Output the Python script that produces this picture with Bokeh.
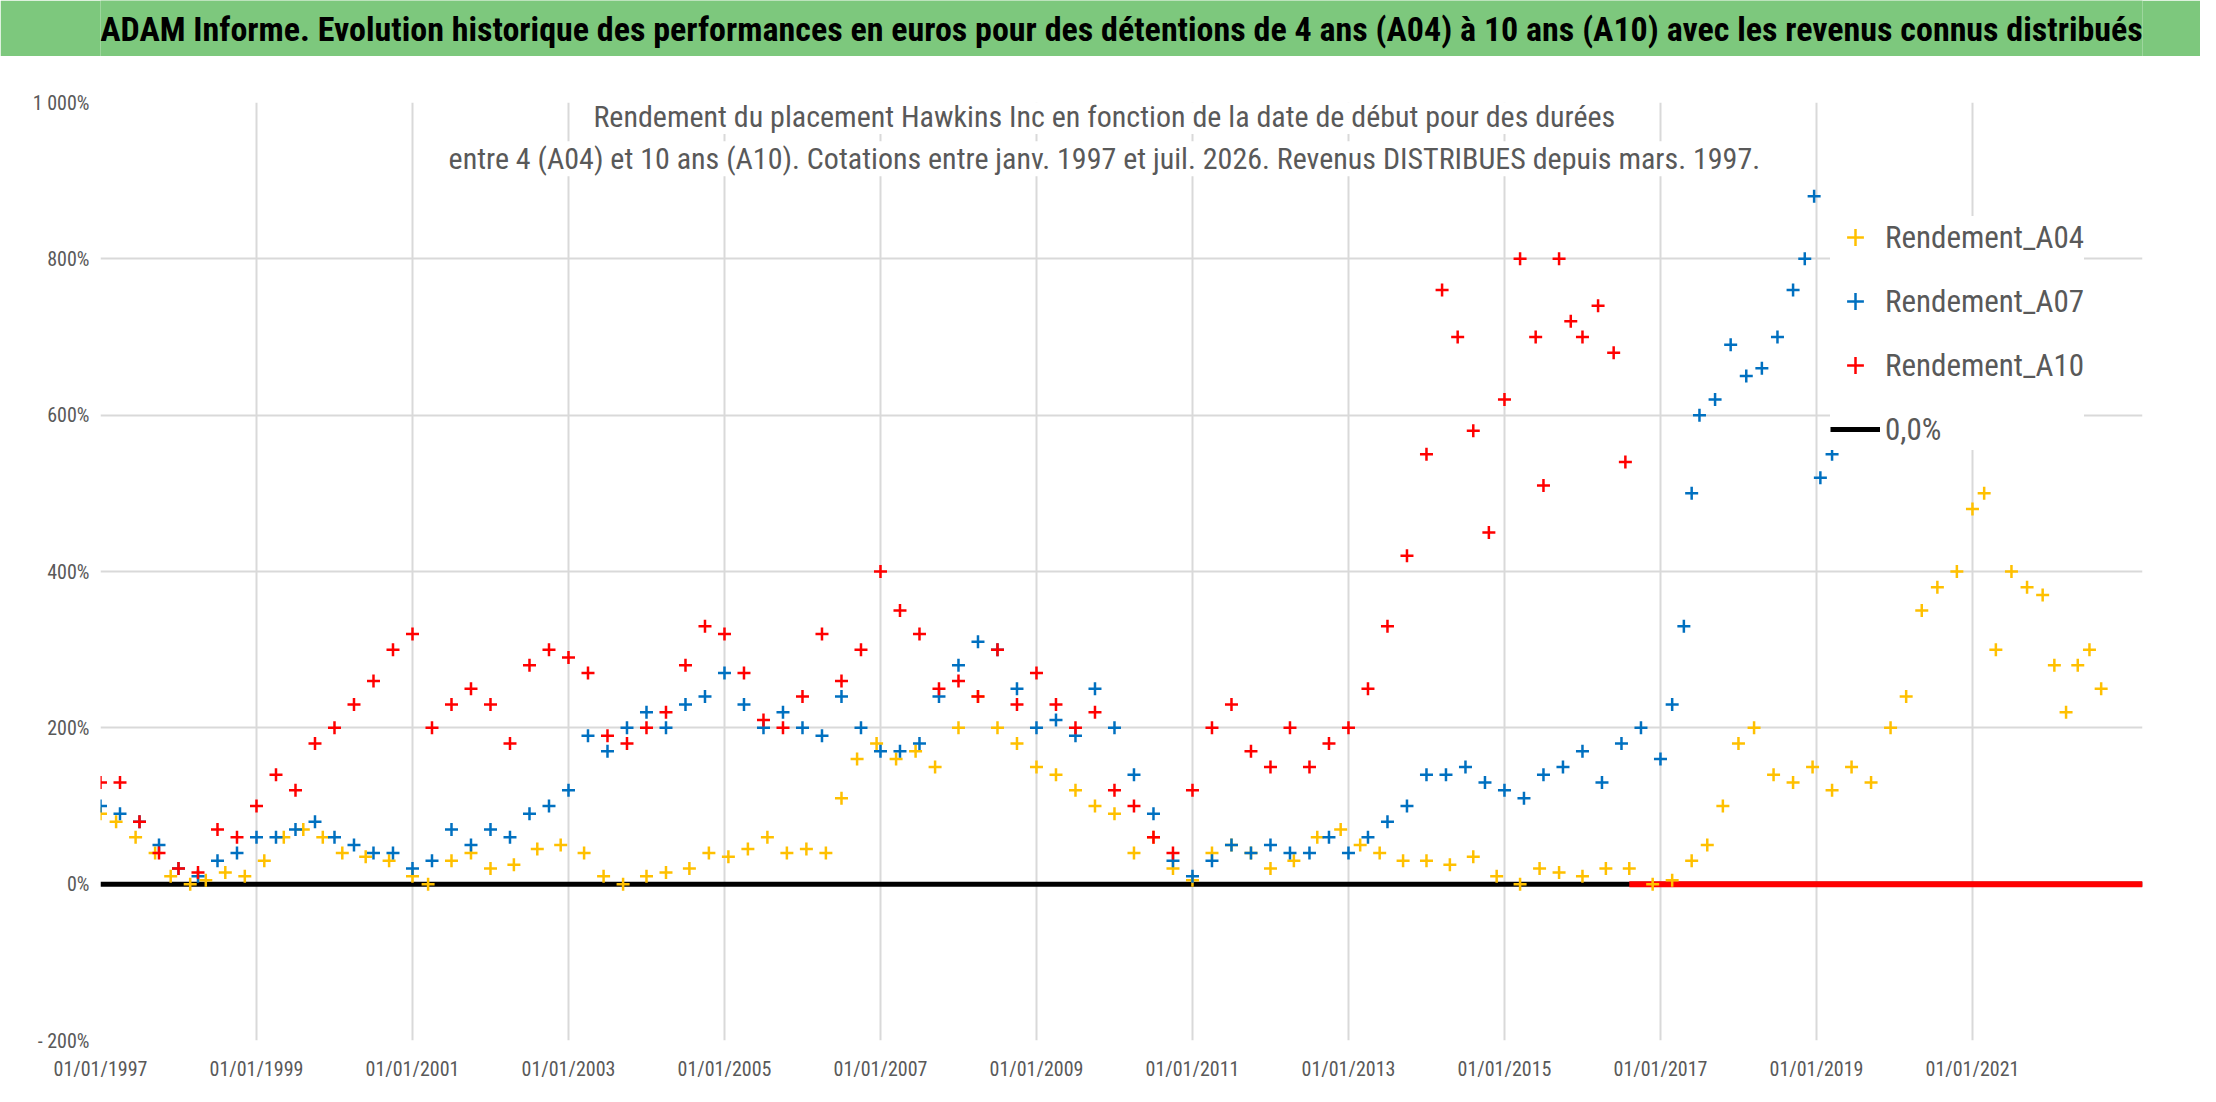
from bokeh.plotting import figure
from bokeh.models import FixedTicker, Legend, LegendItem, Label, Range1d
from bokeh.layouts import column
from bokeh.embed import file_html
from bokeh.resources import INLINE
from bokeh.core.properties import value

FONT = "'Liberation Sans Narrow', 'Roboto Condensed', 'Open Sans'"

# ---------------- data ----------------
a04_x = [1997.0, 1997.2, 1997.45, 1997.7, 1997.9, 1998.15, 1998.35, 1998.6, 1998.85, 1999.1, 1999.35, 1999.6, 1999.85,
         2000.1, 2000.4, 2000.7, 2001.0, 2001.2, 2001.5, 2001.75, 2002.0, 2002.3, 2002.6, 2002.9, 2003.2, 2003.45,
         2003.7, 2004.0, 2004.25, 2004.55, 2004.8, 2005.05, 2005.3, 2005.55, 2005.8, 2006.05, 2006.3, 2006.5, 2006.7,
         2006.95, 2007.2, 2007.45, 2007.7, 2008.0, 2008.25, 2008.5, 2008.75, 2009.0, 2009.25, 2009.5, 2009.75, 2010.0,
         2010.25, 2010.5, 2010.75, 2011.0, 2011.25, 2011.5, 2011.75, 2012.0, 2012.3, 2012.6, 2012.9, 2013.15, 2013.4,
         2013.7, 2014.0, 2014.3, 2014.6, 2014.9, 2015.2, 2015.45, 2015.7, 2016.0, 2016.3, 2016.6, 2016.9, 2017.15,
         2017.4, 2017.6, 2017.8, 2018.0, 2018.2, 2018.45, 2018.7, 2018.95, 2019.2, 2019.45, 2019.7, 2019.95, 2020.15,
         2020.35, 2020.55, 2020.8, 2021.0, 2021.15, 2021.3, 2021.5, 2021.7, 2021.9, 2022.05, 2022.2, 2022.35, 2022.5,
         2022.65]
a04_y = [90, 80, 60, 40, 10, 0, 5, 15, 10, 30, 60, 70, 60,
         40, 35, 30, 10, 0, 30, 40, 20, 25, 45, 50, 40, 10,
         0, 10, 15, 20, 40, 35, 45, 60, 40, 45, 40, 110, 160,
         180, 160, 170, 150, 200, 240, 200, 180, 150, 140, 120, 100, 90,
         40, 60, 20, 5, 40, 50, 40, 20, 30, 60, 70, 50, 40,
         30, 30, 25, 35, 10, 0, 20, 15, 10, 20, 20, 0, 5,
         30, 50, 100, 180, 200, 140, 130, 150, 120, 150, 130, 200, 240,
         350, 380, 400, 480, 500, 300, 400, 380, 370, 280, 220, 280, 300,
         250]

a07_x = [1997.0, 1997.25, 1997.5, 1997.75, 1998.0, 1998.25, 1998.5, 1998.75, 1999.0, 1999.25, 1999.5, 1999.75,
         2000.0, 2000.25, 2000.5, 2000.75, 2001.0, 2001.25, 2001.5, 2001.75, 2002.0, 2002.25, 2002.5, 2002.75,
         2003.0, 2003.25, 2003.5, 2003.75, 2004.0, 2004.25, 2004.5, 2004.75, 2005.0, 2005.25, 2005.5, 2005.75,
         2006.0, 2006.25, 2006.5, 2006.75, 2007.0, 2007.25, 2007.5, 2007.75, 2008.0, 2008.25, 2008.5, 2008.75,
         2009.0, 2009.25, 2009.5, 2009.75, 2010.0, 2010.25, 2010.5, 2010.75, 2011.0, 2011.25, 2011.5, 2011.75,
         2012.0, 2012.25, 2012.5, 2012.75, 2013.0, 2013.25, 2013.5, 2013.75, 2014.0, 2014.25, 2014.5, 2014.75,
         2015.0, 2015.25, 2015.5, 2015.75, 2016.0, 2016.25, 2016.5, 2016.75, 2017.0, 2017.15, 2017.3, 2017.4,
         2017.5, 2017.7, 2017.9, 2018.1, 2018.3, 2018.5, 2018.7, 2018.85, 2018.97, 2019.05, 2019.2]
a07_y = [100, 90, 80, 50, 20, 10, 30, 40, 60, 60, 70, 80,
         60, 50, 40, 40, 20, 30, 70, 50, 70, 60, 90, 100,
         120, 190, 170, 200, 220, 200, 230, 240, 270, 230, 200, 220,
         200, 190, 240, 200, 170, 170, 180, 240, 280, 310, 300, 250,
         200, 210, 190, 250, 200, 140, 90, 30, 10, 30, 50, 40,
         50, 40, 40, 60, 40, 60, 80, 100, 140, 140, 150, 130,
         120, 110, 140, 150, 170, 130, 180, 200, 160, 230, 330, 500,
         600, 620, 690, 650, 660, 700, 760, 800, 880, 520, 550]

a10_x = [1997.0, 1997.25, 1997.5, 1997.75, 1998.0, 1998.25, 1998.5, 1998.75, 1999.0, 1999.25, 1999.5, 1999.75,
         2000.0, 2000.25, 2000.5, 2000.75, 2001.0, 2001.25, 2001.5, 2001.75, 2002.0, 2002.25, 2002.5, 2002.75,
         2003.0, 2003.25, 2003.5, 2003.75, 2004.0, 2004.25, 2004.5, 2004.75, 2005.0, 2005.25, 2005.5, 2005.75,
         2006.0, 2006.25, 2006.5, 2006.75, 2007.0, 2007.25, 2007.5, 2007.75, 2008.0, 2008.25, 2008.5, 2008.75,
         2009.0, 2009.25, 2009.5, 2009.75, 2010.0, 2010.25, 2010.5, 2010.75, 2011.0, 2011.25, 2011.5, 2011.75,
         2012.0, 2012.25, 2012.5, 2012.75, 2013.0, 2013.25, 2013.5, 2013.75, 2014.0, 2014.2, 2014.4, 2014.6,
         2014.8, 2015.0, 2015.2, 2015.4, 2015.5, 2015.7, 2015.85, 2016.0, 2016.2, 2016.4, 2016.55]
a10_y = [130, 130, 80, 40, 20, 15, 70, 60, 100, 140, 120, 180,
         200, 230, 260, 300, 320, 200, 230, 250, 230, 180, 280, 300,
         290, 270, 190, 180, 200, 220, 280, 330, 320, 270, 210, 200,
         240, 320, 260, 300, 400, 350, 320, 250, 260, 240, 300, 230,
         270, 230, 200, 220, 120, 100, 60, 40, 120, 200, 230, 170,
         150, 200, 150, 180, 200, 250, 330, 420, 550, 760, 700, 580,
         450, 620, 800, 700, 510, 800, 720, 700, 740, 680, 540]

a10_zero_x = [2016.6, 2023.18]
zero_x = [1997.0, 2023.18]

y_ticks = [-200, 0, 200, 400, 600, 800, 1000]
y_labels = ["- 200%", "0%", "200%", "400%", "600%", "800%", "1 000%"]
x_ticks = [1997, 1999, 2001, 2003, 2005, 2007, 2009, 2011, 2013, 2015, 2017, 2019, 2021]
x_labels = ["01/01/%d" % t for t in x_ticks]

YELLOW = "#FFC000"
BLUE = "#0070C0"
RED = "#FF0000"

# ---------------- title bar ----------------
t = figure(width=2200, height=56, output_backend="svg", toolbar_location=None,
           x_range=Range1d(0, 1), y_range=Range1d(0, 1), min_border=0)
t.axis.visible = False
t.grid.visible = False
t.background_fill_color = "#7DC87D"
t.border_fill_color = "#7DC87D"
t.outline_line_color = None
t.text(x=[0.5], y=[0.5], text=["ADAM Informe. Evolution historique des performances en euros pour des détentions de 4 ans (A04) à 10 ans (A10) avec les revenus connus distribués"],
       text_align="center", text_baseline="middle", text_font=value(FONT), text_font_style="bold",
       text_font_size="34px", text_color="black")

# ---------------- main chart ----------------
p = figure(width=2200, height=1030, output_backend="svg", toolbar_location=None,
           x_range=Range1d(1997.0, 2023.18), y_range=Range1d(-200, 1000),
           min_border_left=100, min_border_right=58, min_border_top=46, min_border_bottom=46)
p.outline_line_color = None
p.background_fill_color = "white"
for ax in (p.xaxis[0], p.yaxis[0]):
    ax.axis_line_color = None
    ax.major_tick_line_color = None
    ax.minor_tick_line_color = None
    ax.major_label_text_color = "#595959"
    ax.major_label_text_font = FONT
    ax.major_label_text_font_size = "20px"
p.yaxis[0].ticker = FixedTicker(ticks=y_ticks)
p.yaxis[0].major_label_overrides = {v: l for v, l in zip(y_ticks, y_labels)}
p.xaxis[0].ticker = FixedTicker(ticks=x_ticks)
p.xaxis[0].major_label_overrides = {v: l for v, l in zip(x_ticks, x_labels)}
p.xaxis[0].major_label_standoff = 10
p.grid.grid_line_color = "#D9D9D9"
p.grid.grid_line_width = 2

zl = p.line(zero_x, [0, 0], line_color="black", line_width=5)
p.line(a10_zero_x, [0, 0], line_color=RED, line_width=6)
r4 = p.scatter(a04_x, a04_y, marker="cross", size=13, line_width=2.5, line_color=YELLOW)
r7 = p.scatter(a07_x, a07_y, marker="cross", size=13, line_width=2.5, line_color=BLUE)
r10 = p.scatter(a10_x, a10_y, marker="cross", size=13, line_width=2.5, line_color=RED)

for yv, txt in [(982, "Rendement du placement Hawkins Inc en fonction de la date de début pour des durées"),
                (928, "entre 4 (A04) et 10 ans (A10). Cotations entre janv. 1997 et juil. 2026. Revenus DISTRIBUES depuis mars. 1997.")]:
    p.add_layout(Label(x=2009.87, y=yv, text=txt, text_align="center", text_baseline="middle",
                       text_font=FONT, text_font_size="30px", text_color="#595959",
                       background_fill_color="white"))

legend = Legend(items=[LegendItem(label="Rendement_A04", renderers=[r4]),
                       LegendItem(label="Rendement_A07", renderers=[r7]),
                       LegendItem(label="Rendement_A10", renderers=[r10]),
                       LegendItem(label="0,0%", renderers=[zl])],
                location=(1730, 590), label_text_font=FONT, label_text_font_size="31px",
                label_text_color="#595959", spacing=22, label_height=42, glyph_height=42,
                glyph_width=50, border_line_color=None, background_fill_color="white",
                background_fill_alpha=1.0, padding=20)
p.add_layout(legend)

out = column(t, p, spacing=0)
open("out.html", "w").write(file_html(out, INLINE))
